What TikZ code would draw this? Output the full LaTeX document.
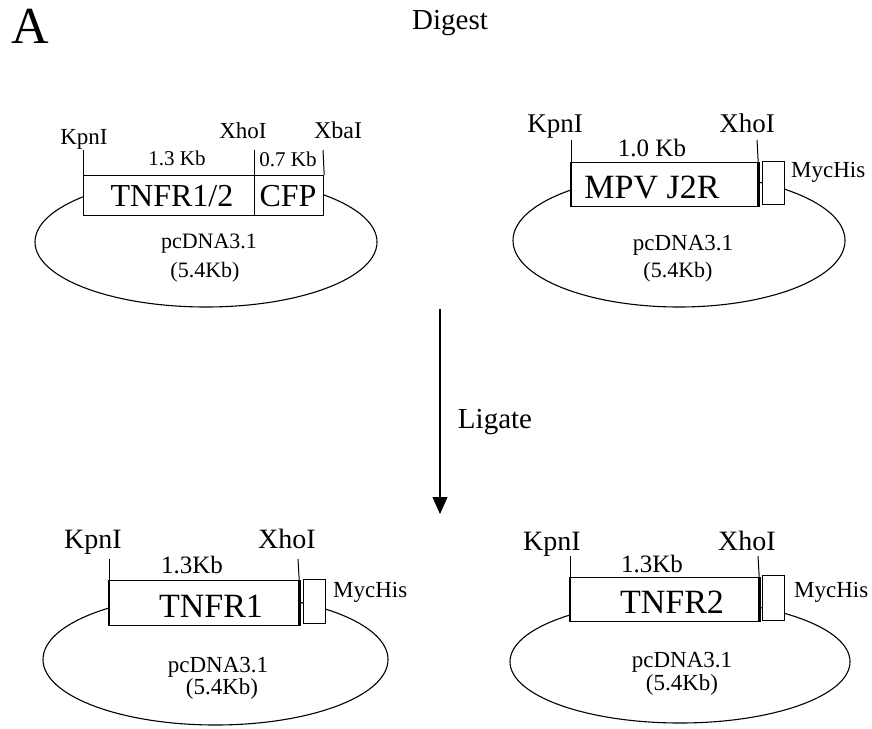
\documentclass[tikz,border=0pt]{standalone}
\usepackage{fontspec}
\setmainfont{Liberation Serif}
\usetikzlibrary{arrows.meta}
\newcommand{\fs}[1]{\fontsize{#1}{#1}\selectfont}
\tikzset{
  gene/.style={draw, fill=white, line width=1.2pt, inner sep=0pt, anchor=north west},
  tag/.style={draw, fill=white, line width=1.2pt, inner sep=0pt, anchor=north west, minimum width=22pt},
  lbl/.style={inner sep=0pt, anchor=base},
  plasmid/.style={line width=1.1pt},
  edge/.style={line width=2.6pt},
}
\begin{document}
\begin{tikzpicture}[x=1pt, y=-1pt]
    \useasboundingbox (0,0) rectangle (872,728);
    % headings
    \node[lbl, anchor=base west] (panel) at (11,43) {\fs{52}A};
    \node[lbl] (digest) at (450,29) {\fs{29}Digest};
    % top left: TNFR1/2 + CFP
    \draw[plasmid] (206,242) ellipse [x radius=171, y radius=65];
    \node[gene, minimum width=171pt, minimum height=40pt] (tnfrAB) at (83,175) {};
    \node[gene, minimum width=69pt, minimum height=40pt] (cfp) at (254,175) {};
    \node[lbl] at (172,206) {\fs{32}TNFR1/2};
    \node[lbl] at (288,206) {\fs{32}CFP};
    \coordinate (kpnA) at (83,150);
    \coordinate (xhoA) at (254,150);
    \coordinate (xbaA) at (323,150);
    \draw[line width=1pt] (tnfrAB.north west) -- (kpnA);
    \draw[line width=1pt] (cfp.north west) -- (xhoA);
    \draw[line width=1pt] (cfp.north east) -- (xbaA);
    \node[lbl] (kpnlA) at (84,144) {\fs{23}KpnI};
    \node[lbl] (xholA) at (243,138) {\fs{23}XhoI};
    \node[lbl] (xbalA) at (338,138) {\fs{24}XbaI};
    \node[lbl] at (177,165) {\fs{21}1.3 Kb};
    \node[lbl] at (288,166) {\fs{21}0.7 Kb};
    \node[lbl] at (209,248) {\fs{22}pcDNA3.1};
    \node[lbl] at (205,277) {\fs{22}(5.4Kb)};
    % top right: MPV J2R
    \draw[plasmid] (679,240.5) ellipse [x radius=166, y radius=66.5];
    \node[gene, minimum width=186pt, minimum height=44pt] (jtwor) at (571,162) {};
    \node[tag, minimum height=43pt] (mycB) at (762,161) {};
    \draw[edge] (jtwor.north west) -- (jtwor.south west);
    \draw[edge] (jtwor.north east) -- (jtwor.south east);
    \node[lbl] at (652,198) {\fs{34}MPV J2R};
    \coordinate (kpnB) at (571,140);
    \coordinate (xhoB) at (757,140);
    \draw[line width=1pt] (jtwor.north west) -- (kpnB);
    \draw[line width=1pt] (jtwor.north east) -- (xhoB);
    \node[lbl] at (555,132) {\fs{27}KpnI};
    \node[lbl] at (747,132) {\fs{27}XhoI};
    \node[lbl] at (652,156) {\fs{25}1.0 Kb};
    \node[lbl, anchor=base west] at (791,177) {\fs{23}MycHis};
    \node[lbl] at (683,250) {\fs{23}pcDNA3.1};
    \node[lbl] at (678,277) {\fs{22}(5.4Kb)};
    % arrow
    \coordinate (from) at (440,309);
    \coordinate (to) at (440,514);
    \draw[line width=1.1pt, -{Triangle[width=15pt, length=17pt]}] (from) -- (to);
    \node[lbl] (ligate) at (495,428) {\fs{29}Ligate};
    % bottom left: TNFR1
    \draw[plasmid] (215.5,659.5) ellipse [x radius=172.5, y radius=65.5];
    \node[gene, minimum width=189pt, minimum height=45pt] (tnfrA) at (109,580) {};
    \node[tag, minimum height=44pt] (mycC) at (303,579) {};
    \draw[edge] (tnfrA.north west) -- (tnfrA.south west);
    \draw[edge] (tnfrA.north east) -- (tnfrA.south east);
    \node[lbl] at (211,617) {\fs{34}TNFR1};
    \coordinate (kpnC) at (109,559);
    \coordinate (xhoC) at (298,559);
    \draw[line width=1pt] (tnfrA.north west) -- (kpnC);
    \draw[line width=1pt] (tnfrA.north east) -- (xhoC);
    \node[lbl] at (93,548) {\fs{28}KpnI};
    \node[lbl] at (287,548) {\fs{28}XhoI};
    \node[lbl] at (192,573) {\fs{25}1.3Kb};
    \node[lbl, anchor=base west] at (333,597) {\fs{23}MycHis};
    \node[lbl] at (218,672) {\fs{23}pcDNA3.1};
    \node[lbl] at (222,694) {\fs{23}(5.4Kb)};
    % bottom right: TNFR2
    \draw[plasmid] (680,661.7) ellipse [x radius=170, y radius=61.3];
    \node[gene, minimum width=188pt, minimum height=44pt] (tnfrB) at (570,577) {};
    \node[tag, minimum height=45pt] (mycD) at (762,575) {};
    \draw[edge] (tnfrB.north west) -- (tnfrB.south west);
    \draw[edge] (tnfrB.north east) -- (tnfrB.south east);
    \node[lbl] at (672,613) {\fs{34}TNFR2};
    \coordinate (kpnD) at (570,556);
    \coordinate (xhoD) at (758,556);
    \draw[line width=1pt] (tnfrB.north west) -- (kpnD);
    \draw[line width=1pt] (tnfrB.north east) -- (xhoD);
    \node[lbl] at (552,550) {\fs{28}KpnI};
    \node[lbl] at (747,550) {\fs{28}XhoI};
    \node[lbl] at (652,572) {\fs{25}1.3Kb};
    \node[lbl, anchor=base west] at (794,597) {\fs{23}MycHis};
    \node[lbl] at (682,667) {\fs{23}pcDNA3.1};
    \node[lbl] at (682,690) {\fs{23}(5.4Kb)};
\end{tikzpicture}
\end{document}
